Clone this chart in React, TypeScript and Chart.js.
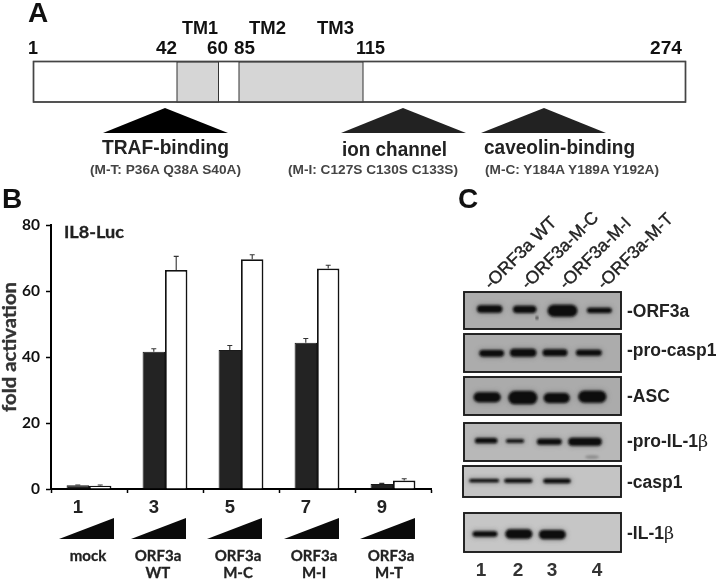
import React, { useEffect, useRef } from "react";
import { Chart, registerables } from "chart.js";

Chart.register(...registerables);

// ---- Panel B data ----
const laneTicks = ["1", "3", "5", "7", "9"];
const lowDose = [1.1, 41.6, 42.1, 44.3, 1.5];
const highDose = [1.0, 66.4, 69.6, 66.8, 2.6];
const lowDoseErrTop = [1.2, 42.5, 43.5, 45.6, 1.7];
const highDoseErrTop = [1.2, 70.5, 71.0, 67.8, 3.1];
const groupNames = [["mock"], ["ORF3a", "WT"], ["ORF3a", "M-C"], ["ORF3a", "M-I"], ["ORF3a", "M-T"]];

// ---- Panel A labels ----
const residues = ["1", "42", "60", "85", "115", "274"];
const tmNames = ["TM1", "TM2", "TM3"];

// ---- Panel C labels ----
const blotLanes = ["-ORF3a WT", "-ORF3a-M-C", "-ORF3a-M-I", "-ORF3a-M-T"];
const laneNumbers = ["1", "2", "3", "4"];

const SANS = '"Liberation Sans", Arial, sans-serif';
const LATO = 'Lato, "Liberation Sans", sans-serif';

// layout tables (page pixels)
const residueX: [number, number][] = [[28, 10], [156, 21], [207, 21], [234, 21], [356, 29], [650, 32]];
const tmX: [number, number][] = [[182, 36], [249, 37], [317, 37]];
const wedgesX = [59, 131, 207, 284, 360];
const groupNameX: [number, number][] = [[88, 88], [158, 158], [238, 238], [314, 314], [391, 389]];
const blotLabelStart = [491, 528, 566, 604];
const laneNumberX = [481, 518, 552, 597];

type Band = [number, number, number, number]; // left, right, centre y, half height (3x crop units)
const blots: { box: number[]; fill: string; label: string; greek?: string; base: number; bands: Band[] }[] = [
  { box: [464, 292, 621, 329], fill: "#adadad", label: "-ORF3a", base: 317, bands: [[78, 160, 372, 11], [186, 262, 373, 11], [290, 385, 377, 18], [408, 488, 376, 8]] },
  { box: [464, 334, 621, 372], fill: "#acacac", label: "-pro-casp1", base: 356, bands: [[85, 165, 505, 10], [177, 262, 503, 12], [275, 355, 503, 10], [375, 458, 503, 9]] },
  { box: [464, 377, 621, 415], fill: "#ababab", label: "-ASC", base: 402, bands: [[68, 155, 637, 15], [172, 265, 638, 20], [278, 362, 639, 15], [382, 472, 635, 18]] },
  { box: [464, 423, 621, 461], fill: "#b8b8b8", label: "-pro-IL-1", greek: "β", base: 447, bands: [[72, 145, 767, 8], [165, 225, 768, 5], [258, 338, 770, 9], [352, 458, 770, 12]] },
  { box: [463, 466, 621, 497], fill: "#c4c4c4", label: "-casp1", base: 488, bands: [[55, 150, 887, 5], [160, 250, 887, 6], [277, 365, 888, 7]] },
  { box: [464, 513, 621, 552], fill: "#c6c6c6", label: "-IL-1", greek: "β", base: 539, bands: [[65, 145, 1047, 8], [163, 250, 1047, 14], [264, 350, 1049, 14]] },
];

function Txt(p: { x: number; y: number; s: number; w?: number; c?: string; f?: string; b?: boolean; a?: string; k?: number; children: React.ReactNode; tr?: string }) {
  const color = p.c || "#111";
  return (
    <text
      x={p.x}
      y={p.y}
      fontSize={p.s}
      fontFamily={p.f || SANS}
      fontWeight={p.b === false ? 400 : 700}
      fill={color}
      stroke={p.k ? color : undefined}
      strokeWidth={p.k}
      textAnchor={(p.a as any) || "start"}
      textLength={p.w}
      lengthAdjust={p.w ? "spacingAndGlyphs" : undefined}
      transform={p.tr}
    >
      {p.children}
    </text>
  );
}

const errorBars = {
  id: "errorBars",
  afterDatasetsDraw(chart: any) {
    const { ctx, scales } = chart;
    [lowDoseErrTop, highDoseErrTop].forEach((tops, d) => {
      chart.getDatasetMeta(d).data.forEach((bar: any, i: number) => {
        const top = scales.y.getPixelForValue(tops[i]);
        ctx.save();
        ctx.strokeStyle = "#333";
        ctx.lineWidth = 1.1;
        ctx.beginPath();
        ctx.moveTo(bar.x, bar.y);
        ctx.lineTo(bar.x, top);
        ctx.moveTo(bar.x - 2.5, top);
        ctx.lineTo(bar.x + 2.5, top);
        ctx.stroke();
        ctx.restore();
      });
    });
  },
};

export default function App() {
  const ref = useRef<HTMLCanvasElement>(null);
  useEffect(() => {
    const chart = new Chart(ref.current as HTMLCanvasElement, {
      type: "bar",
      data: {
        labels: laneTicks,
        datasets: [
          { label: "low dose", data: lowDose, backgroundColor: "#232323", borderColor: "#1a1a1a", borderWidth: 1 },
          { label: "high dose", data: highDose, backgroundColor: "#ffffff", borderColor: "#111111", borderWidth: 1.8 },
        ],
      },
      options: {
        responsive: false,
        animation: false,
        layout: { padding: { top: 225, right: 286, left: 0, bottom: 0 } },
        plugins: { legend: { display: false }, tooltip: { enabled: false } },
        datasets: { bar: { categoryPercentage: 0.59, barPercentage: 1 } },
        scales: {
          x: {
            afterFit(s: any) { s.height = 91; },
            border: { color: "#000", width: 2 },
            grid: { drawOnChartArea: false, tickLength: 4, tickColor: "#000", tickWidth: 1.5 },
            ticks: { color: "#222", font: { family: SANS, weight: "bold", size: 18.5 }, padding: 4, labelOffset: -11, maxRotation: 0 },
          },
          y: {
            min: 0,
            max: 80,
            afterFit(s: any) { s.width = 51; },
            border: { color: "#000", width: 2 },
            grid: { drawOnChartArea: false, tickLength: 5, tickColor: "#000", tickWidth: 1.5 },
            ticks: { stepSize: 20, color: "#111", font: { family: LATO, weight: "bold", size: 15.5 }, padding: 6 },
          },
        },
      } as any,
      plugins: [errorBars],
    });
    return () => chart.destroy();
  }, []);

  return (
    <div style={{ position: "absolute", left: 0, top: 0, width: 717, height: 580, background: "#fff", overflow: "hidden" }}>
      <canvas ref={ref} width={717} height={580} style={{ position: "absolute", left: 0, top: 0, display: "block" }} />
      <svg width={717} height={580} style={{ position: "absolute", left: 0, top: 0, pointerEvents: "none" }}>
        <defs>
          <filter id="soft" x="-20%" y="-60%" width="140%" height="220%"><feGaussianBlur stdDeviation="1.1" /></filter>
          <filter id="halo" x="-20%" y="-80%" width="140%" height="260%"><feGaussianBlur stdDeviation="2.4" /></filter>
        </defs>

        {/* Panel A */}
        <Txt x={28} y={22} s={28}>A</Txt>
        {tmNames.map((t, i) => <Txt key={t} x={tmX[i][0]} y={34} s={19} w={tmX[i][1]}>{t}</Txt>)}
        {residues.map((t, i) => <Txt key={t} x={residueX[i][0]} y={54} s={18.5} w={residueX[i][1]}>{t}</Txt>)}
        <rect x={33.5} y={61.5} width={652} height={40.5} fill="#fff" stroke="#444" strokeWidth={1.4} />
        <rect x={177} y={62} width={41.5} height={40} fill="#d6d6d6" stroke="#333" strokeWidth={1} />
        <rect x={239} y={62} width={124} height={40} fill="#d6d6d6" stroke="#333" strokeWidth={1} />
        <rect x={33.5} y={61.5} width={652} height={40.5} fill="none" stroke="#444" strokeWidth={1.4} />
        <polygon points="165,108 103,133 228,133" fill="#000" />
        <polygon points="403,108 341,133 466,133" fill="#222" />
        <polygon points="544,108 481,133 606,133" fill="#222" />
        <Txt x={102} y={154} s={20} w={127} c="#222">TRAF-binding</Txt>
        <Txt x={342} y={156} s={20} w={105} c="#222">ion channel</Txt>
        <Txt x={484} y={154} s={20} w={151} c="#222">caveolin-binding</Txt>
        <Txt x={90} y={174} s={12.5} w={151} c="#444">(M-T: P36A Q38A S40A)</Txt>
        <Txt x={288} y={174} s={12.5} w={170} c="#444">(M-I: C127S C130S C133S)</Txt>
        <Txt x={485} y={174} s={12.5} w={174} c="#444">(M-C: Y184A Y189A Y192A)</Txt>

        {/* Panel B */}
        <Txt x={2} y={208} s={28}>B</Txt>
        <Txt x={0} y={0} s={18} f={LATO} c="#333" k={0.35} a="middle" w={130} tr="translate(16,347) rotate(-90)">fold activation</Txt>
        <Txt x={64} y={238} s={17} f={LATO} c="#222" k={0.3} w={60}>IL8-Luc</Txt>
        {wedgesX.map((x) => <polygon key={x} points={`${x},539 ${x + 55},539 ${x + 55},518`} fill="#0a0a0a" />)}
        {groupNames.map((g, i) => (
          <g key={i}>
            <Txt x={groupNameX[i][0]} y={561} s={15} f={LATO} a="middle" c="#222" k={0.3}>{g[0]}</Txt>
            {g[1] && <Txt x={groupNameX[i][1]} y={578} s={15} f={LATO} a="middle" c="#222" k={0.3}>{g[1]}</Txt>}
          </g>
        ))}

        {/* Panel C */}
        <Txt x={458} y={208} s={28}>C</Txt>
        {blotLanes.map((t, i) => (
          <Txt key={t} x={0} y={0} s={17.5} c="#222" b={false} k={0.4} tr={`translate(${blotLabelStart[i]},290) rotate(-45)`}>{t}</Txt>
        ))}
        {blots.map((b, i) => (
          <g key={i}>
            <rect x={b.box[0]} y={b.box[1]} width={b.box[2] - b.box[0]} height={b.box[3] - b.box[1]} fill={b.fill} stroke="#1c1c1c" strokeWidth={1.9} />
            {b.bands.map((m, j) => {
              const x = 450 + m[0] / 3, w = (m[1] - m[0]) / 3, cy = 185 + m[2] / 3, hh = m[3] / 3;
              return (
                <g key={j}>
                  <rect x={x} y={cy - hh - 1} width={w} height={2 * hh + 2} rx={hh + 1} fill="#555" opacity={0.5} filter="url(#halo)" />
                  <rect x={x + 1} y={cy - hh} width={w - 2} height={2 * hh} rx={hh} fill="#0d0d0d" filter="url(#soft)" />
                </g>
              );
            })}
            <Txt x={627} y={b.base} s={17.5} c="#222">{b.label}{b.greek && <tspan fontFamily='"DejaVu Serif", serif' fontWeight={400}>{b.greek}</tspan>}</Txt>
          </g>
        ))}
        <circle cx={537} cy={318} r={1.4} fill="#222" filter="url(#soft)" />
        <ellipse cx={592} cy={457} rx={7} ry={2} fill="#777" opacity={0.6} filter="url(#soft)" />
        {laneNumbers.map((t, i) => <Txt key={t} x={laneNumberX[i]} y={576} s={19} a="middle" c="#333">{t}</Txt>)}
      </svg>
    </div>
  );
}
